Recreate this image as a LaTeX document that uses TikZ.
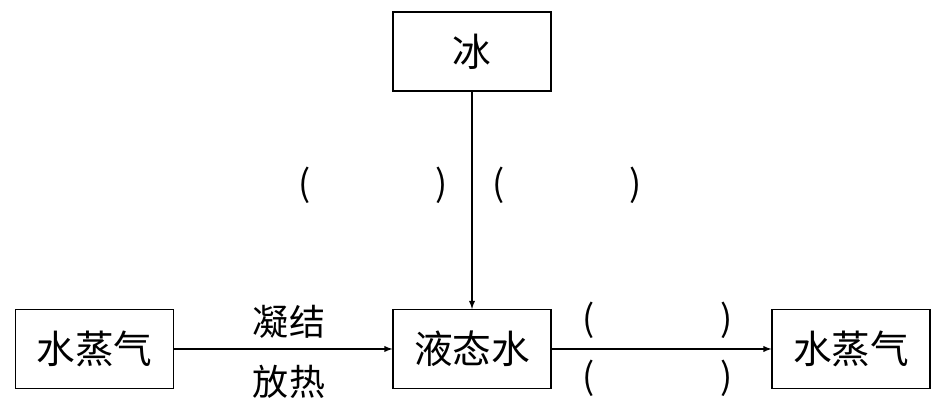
\documentclass[tikz,border=0pt]{standalone}
\usepackage{fontspec}
\setmainfont{Noto Sans CJK SC}
\begin{document}
\begin{tikzpicture}
	\tikzstyle{statebox} = [draw,shape=rectangle,line width=0.6pt,minimum width=3.16cm,minimum height=1.58cm,font=\fontsize{22pt}{26pt}\selectfont]
	\tikzstyle{changeedge} = [-latex, line width=0.6pt]
	\tikzstyle{changelabel} = [font=\fontsize{20.5pt}{24pt}\selectfont, inner sep=0pt]

	\useasboundingbox (0,0) rectangle (18.68,8.12);

	% NODES %
	\node[statebox] (ice) at (9.44,7.09) {冰};
	\node[statebox] (vapourA) at (1.89,1.14) {水蒸气};
	\node[statebox] (liquid) at (9.44,1.14) {液态水};
	\node[statebox] (vapourB) at (17.02,1.14) {水蒸气};

	% LABELS %
	\node[changelabel] (condA) at (5.78,1.68) {凝结};
	\node[changelabel] (condB) at (5.78,0.48) {放热};
	\node[changelabel] (iceL) at (7.46,4.42) {(\hspace{2.5cm})};
	\node[changelabel] (iceR) at (11.34,4.42) {(\hspace{2.5cm})};
	\node[changelabel] (evapA) at (13.15,1.72) {(\hspace{2.5cm})};
	\node[changelabel] (evapB) at (13.15,0.56) {(\hspace{2.5cm})};

	% EDGES %
	\draw[changeedge] (ice) -- (liquid);
	\draw[changeedge] (vapourA) -- (liquid);
	\draw[changeedge] (liquid) -- (vapourB);
\end{tikzpicture}
\end{document}
